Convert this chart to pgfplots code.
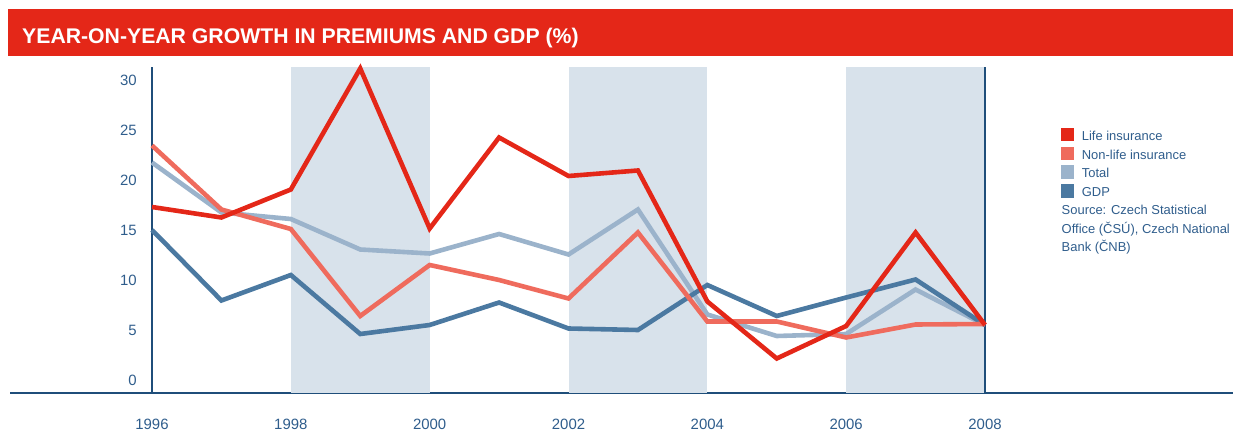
\documentclass[border=0pt]{standalone}
\usepackage{pgfplots}
\pgfplotsset{compat=1.18}
\usepackage{fontspec}
\setmainfont{Liberation Sans}
\definecolor{titlered}{HTML}{E42718}
\definecolor{lifered}{HTML}{E42718}
\definecolor{nonlife}{HTML}{EF6B5D}
\definecolor{totalc}{HTML}{9BB3CB}
\definecolor{gdpc}{HTML}{4B79A1}
\definecolor{bandc}{HTML}{D8E2EB}
\definecolor{textblue}{HTML}{2F5D8C}
\definecolor{axisblue}{HTML}{1F4E7A}
\begin{document}
\begin{tikzpicture}
\useasboundingbox (0bp,0bp) rectangle (1233bp,432bp);
\fill[titlered] (8.3bp,375.5bp) rectangle (1233bp,422.7bp);
\node[anchor=base west, inner sep=0pt, text=white, font=\fontsize{21.3}{24}\selectfont\bfseries] at (22bp,388.7bp) {YEAR-ON-YEAR GROWTH IN PREMIUMS AND GDP (\%)};
\draw[axisblue, line width=1.6bp] (10bp,39bp) -- (1233bp,39bp);
\begin{axis}[
  at={(152bp,39bp)}, anchor=south west,
  width=833bp, height=326bp, scale only axis,
  xmin=1996, xmax=2008, ymin=-1.25, ymax=31.35,
  axis line style={draw=none},
  major tick length=0pt,
  xtick={1996,1998,...,2008},
  ytick={0,5,...,30},
  /pgf/number format/assume math mode=true,
  /pgf/number format/1000 sep={},
  ticklabel style={font=\fontsize{15}{18}\selectfont, text=textblue},
  xticklabel style={anchor=center, yshift=-31bp},
  yticklabel style={anchor=east, inner sep=0pt, xshift=-15bp},
  clip=false,
  legend cell align=left,
  legend image code/.code={\fill[#1] (0bp,-0.3bp) rectangle (12.5bp,12.3bp);},
  legend style={at={(axis description cs:1.0912,0.8138)}, anchor=north west,
    draw=none, fill=none, inner sep=0pt, outer sep=0pt,
    font=\fontsize{13}{15}\selectfont, text=textblue,
    row sep=2.9bp, column sep=0pt,
    nodes={inner sep=0pt, outer sep=0pt, text height=9.5bp, text depth=3.5bp},
    cells={anchor=base west}},
]
\fill[bandc] (axis cs:1998,-1.25) rectangle (axis cs:2000,31.35);
\fill[bandc] (axis cs:2002,-1.25) rectangle (axis cs:2004,31.35);
\fill[bandc] (axis cs:2006,-1.25) rectangle (axis cs:2008,31.35);
\draw[axisblue, line width=1.4bp] (axis cs:1996,-1.25) -- (axis cs:1996,31.35);
\draw[axisblue, line width=1.4bp] (axis cs:2008,-1.25) -- (axis cs:2008,31.35);
\addlegendimage{color=lifered}\addlegendentry{\hspace{8bp}Life insurance}
\addlegendimage{color=nonlife}\addlegendentry{\hspace{8bp}Non-life insurance}
\addlegendimage{color=totalc}\addlegendentry{\hspace{8bp}Total}
\addlegendimage{color=gdpc}\addlegendentry{\hspace{8bp}GDP}
\addplot[color=totalc, line width=4.6bp, forget plot] coordinates {
(1996,21.8) (1997,16.8) (1998,16.15) (1999,13.1) (2000,12.7) (2001,14.65) (2002,12.6) (2003,17.1) (2004,6.6) (2005,4.45) (2006,4.65) (2007,9.1) (2008,5.55)};
\addplot[color=gdpc, line width=4.6bp, forget plot] coordinates {
(1996,15.05) (1997,8.0) (1998,10.55) (1999,4.65) (2000,5.55) (2001,7.8) (2002,5.2) (2003,5.05) (2004,9.55) (2005,6.45) (2006,8.3) (2007,10.1) (2008,5.55)};
\addplot[color=nonlife, line width=4.6bp, forget plot] coordinates {
(1996,23.5) (1997,17.1) (1998,15.15) (1999,6.45) (2000,11.55) (2001,10.05) (2002,8.2) (2003,14.8) (2004,5.9) (2005,5.9) (2006,4.3) (2007,5.6) (2008,5.65)};
\addplot[color=lifered, line width=4.6bp, forget plot] coordinates {
(1996,17.35) (1997,16.3) (1998,19.1) (1999,31.2) (2000,15.2) (2001,24.3) (2002,20.45) (2003,21.0) (2004,7.9) (2005,2.2) (2006,5.45) (2007,14.8) (2008,5.55)};
\end{axis}
\node[anchor=base west, inner sep=0pt, align=left, text=textblue, font=\fontsize{13}{18.5}\selectfont] at (1061.5bp,180.3bp) {Source: Czech Statistical\\Office (ČSÚ), Czech National\\Bank (ČNB)};
\end{tikzpicture}
\end{document}
